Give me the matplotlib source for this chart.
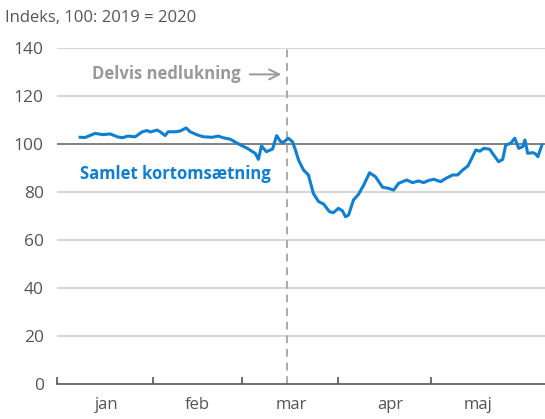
import numpy as np
import matplotlib
matplotlib.use('Agg')
import matplotlib.pyplot as plt

# days since 1 Jan 2020, index (2019 = 100)
days = [7.5, 9.1, 12.3, 14.9, 17.2, 19.5, 21.1, 23.0, 25.3, 27.6, 29.2, 30.2, 32.4, 33.4,
        35.0, 36.0, 38.3, 39.9, 41.8, 43.1, 45.4, 47.4, 50.3, 52.2, 53.8, 56.1, 58.4, 60.0,
        61.6, 63.3, 64.2, 65.2, 66.2, 67.8, 69.8, 71.1, 72.4, 73.3, 74.9, 76.2, 77.2, 78.2,
        79.8, 81.4, 83.0, 84.7, 86.3, 88.2, 89.5, 91.1, 92.4, 93.4, 94.4, 96.0, 97.6, 99.3,
        101.2, 103.1, 105.4, 107.4, 109.0, 110.6, 113.2, 115.1, 117.1, 118.7, 120.3, 122.0,
        124.2, 125.9, 128.1, 129.7, 131.4, 133.0, 134.0, 135.6, 136.9, 138.2, 140.1, 141.4,
        143.0, 144.3, 145.3, 146.9, 148.2, 149.5, 150.8, 151.5, 152.4, 154.1, 155.0, 155.7, 157.0]
values = [102.8, 102.7, 104.4, 103.9, 104.2, 103.0, 102.6, 103.3, 103.0, 105.1, 105.6, 105.0,
          105.8, 105.1, 103.5, 105.1, 105.1, 105.4, 106.7, 105.1, 103.8, 103.0, 102.8, 103.3,
          102.6, 102.0, 100.3, 99.2, 98.2, 96.8, 96.1, 93.6, 99.2, 96.8, 97.9, 103.5, 101.0,
          100.7, 102.4, 101.0, 97.5, 93.3, 89.2, 87.1, 79.4, 76.0, 75.0, 71.8, 71.4, 73.2,
          72.2, 69.7, 70.4, 76.7, 79.0, 82.9, 88.0, 86.4, 82.0, 81.5, 80.8, 83.6, 85.0, 83.9,
          84.6, 83.9, 84.8, 85.3, 84.3, 85.7, 87.1, 87.1, 89.2, 90.8, 93.3, 97.5, 97.0, 98.2,
          97.8, 95.4, 92.6, 93.6, 99.6, 100.3, 102.4, 98.2, 98.9, 101.7, 96.1, 96.4, 95.8,
          94.7, 99.6]

month_starts = [0, 31, 60, 91, 121]
month_mid = [16.2, 45.5, 75.8, 107.8, 136.2]
month_labels = ['jan', 'feb', 'mar', 'apr', 'maj']
yticks = [0, 20, 40, 60, 80, 100, 120, 140]
lockdown_day = 74.6

BLUE = '#0f7fd4'
GREY_TXT = '#555555'

plt.rcParams['font.family'] = ['Open Sans', 'DejaVu Sans']

fig = plt.figure(figsize=(5.45, 4.19), dpi=100)
ax = fig.add_axes([57/545, 1 - 384/419, 1 - 57/545, (384 - 48)/419])

for y in yticks[1:]:
    if y == 100:
        ax.axhline(y, color='#6b6b6b', lw=1.2, zorder=1)
    else:
        ax.axhline(y, color='#d0d0d0', lw=1.2, zorder=1)

ax.axvline(lockdown_day, color='#aaaaaa', lw=1.4, ls=(0, (4, 3)), zorder=1, clip_on=False)
ax.plot(days, values, color=BLUE, lw=2.2, zorder=3, solid_joinstyle='round')

ax.set_xlim(0, 158)
ax.set_ylim(0, 140)

for s in ['top', 'right', 'left']:
    ax.spines[s].set_visible(False)
ax.spines['bottom'].set_color('#555555')
ax.spines['bottom'].set_linewidth(1.2)

ax.set_yticks(yticks)
ax.tick_params(axis='y', length=0, pad=9.5, labelsize=12.5, labelcolor=GREY_TXT)
ax.set_xticks(month_starts)
ax.set_xticklabels([])
ax.tick_params(axis='x', which='major', direction='in', length=5, width=1.2, color='#555555')
ax.set_xticks(month_mid, minor=True)
ax.set_xticklabels(month_labels, minor=True)
ax.tick_params(axis='x', which='minor', length=0, pad=9, labelsize=12, labelcolor=GREY_TXT)

fig.text(5/545, 1 - 18/419, 'Indeks, 100: 2019 = 2020', fontsize=12, color=GREY_TXT,
         ha='left', va='center')

ax.annotate('', xy=(73.5, 129), xytext=(61.5, 129),
            arrowprops=dict(arrowstyle='->', color='#999999', lw=1.4, mutation_scale=18))
ax.text(59.5, 129, 'Delvis nedlukning', color='#999999', fontsize=12, fontweight='bold',
        ha='right', va='center')
ax.text(7.3, 87.5, 'Samlet kortomsætning', color=BLUE, fontsize=12, fontweight='bold',
        ha='left', va='center')

fig.savefig('out.png', dpi=100)
